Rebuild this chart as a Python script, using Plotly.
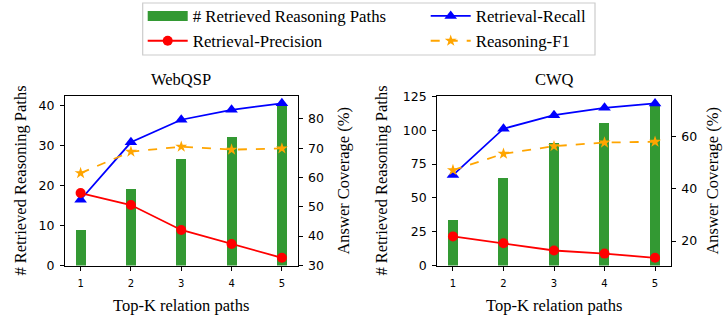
import plotly.graph_objects as go

# ---------------- data ----------------
top_k = [1, 2, 3, 4, 5]
x_tick_labels = ["1", "2", "3", "4", "5"]

web_paths = [9.0, 19.2, 26.7, 32.2, 40.4]
web_recall = [52.4, 72.0, 79.7, 83.1, 85.3]
web_precision = [54.7, 50.6, 42.1, 37.3, 32.6]
web_f1 = [61.5, 68.8, 70.5, 69.5, 69.9]

cwq_paths = [33.8, 65.1, 90.8, 105.8, 119.5]
cwq_recall = [45.3, 63.1, 68.3, 71.1, 72.8]
cwq_precision = [21.8, 19.2, 16.4, 15.2, 13.6]
cwq_f1 = [47.2, 53.5, 56.4, 57.8, 58.1]

web_left_ticks = [0, 10, 20, 30, 40]
web_right_ticks = [30, 40, 50, 60, 70, 80]
cwq_left_ticks = [0, 25, 50, 75, 100, 125]
cwq_right_ticks = [20, 40, 60]

# ---------------- style ----------------
W, H = 724, 318
GREEN = "#339933"
BLUE = "#0000ff"
RED = "#ff0000"
ORANGE = "#ffa500"
SERIF = "Liberation Serif, Times New Roman, serif"
SANS = "DejaVu Sans, sans-serif"


def px(x):
    return x / W


def py(y):
    return 1 - y / H


fig = go.Figure()

panels = [
    dict(xa="x", ya="y", ya2="y2", paths=web_paths, recall=web_recall,
         precision=web_precision, f1=web_f1, legend=True),
    dict(xa="x2", ya="y3", ya2="y4", paths=cwq_paths, recall=cwq_recall,
         precision=cwq_precision, f1=cwq_f1, legend=False),
]

for p in panels:
    fig.add_trace(go.Bar(x=top_k, y=p["paths"], width=0.2, marker=dict(color=GREEN, line=dict(width=0)),
                         name="# Retrieved Reasoning Paths", showlegend=False,
                         xaxis=p["xa"], yaxis=p["ya"]))
    fig.add_trace(go.Scatter(x=top_k, y=p["recall"], mode="lines+markers", name="Retrieval-Recall",
                             line=dict(color=BLUE, width=1.8),
                             marker=dict(symbol="triangle-up", size=11, color=BLUE),
                             showlegend=p["legend"], legendrank=2,
                             xaxis=p["xa"], yaxis=p["ya2"]))
    fig.add_trace(go.Scatter(x=top_k, y=p["precision"], mode="lines+markers", name="Retrieval-Precision",
                             line=dict(color=RED, width=1.8),
                             marker=dict(symbol="circle", size=10, color=RED),
                             showlegend=p["legend"], legendrank=3,
                             xaxis=p["xa"], yaxis=p["ya2"]))
    fig.add_trace(go.Scatter(x=top_k, y=p["f1"], mode="lines+markers", name="Reasoning-F1",
                             line=dict(color=ORANGE, width=1.8, dash="dash"),
                             marker=dict(symbol="star", size=9, color=ORANGE),
                             showlegend=p["legend"], legendrank=4,
                             xaxis=p["xa"], yaxis=p["ya2"]))

# legend helper for the bar series (wide rectangle patch)
fig.add_trace(go.Scatter(x=[None], y=[None], mode="lines", name="# Retrieved Reasoning Paths",
                         line=dict(color=GREEN, width=12), legendrank=1,
                         xaxis="x", yaxis="y"))

ydom = [py(265.5), py(95.7)]
xdom_l = [px(65), px(297.5)]
xdom_r = [px(437.3), px(670.7)]

common_x = dict(showline=True, linecolor="black", linewidth=1.2, mirror=True,
                ticks="outside", ticklen=4, tickwidth=1, tickcolor="black",
                showgrid=False, zeroline=False, range=[0.69, 5.31],
                tickvals=top_k, ticktext=x_tick_labels, ticklabelstandoff=4,
                tickfont=dict(family=SANS, size=10, color="black"))
common_y = dict(showline=True, linecolor="black", linewidth=1.2,
                ticks="outside", ticklen=4, tickwidth=1, tickcolor="black",
                showgrid=False, zeroline=False, ticklabelstandoff=3,
                tickfont=dict(family=SANS, size=12.5, color="black"))

fig.update_layout(
    width=W, height=H,
    margin=dict(l=0, r=0, t=0, b=0, autoexpand=False),
    paper_bgcolor="white", plot_bgcolor="white",
    bargap=0,
    xaxis=dict(domain=xdom_l, anchor="y", **common_x),
    yaxis=dict(domain=ydom, anchor="x", range=[0, 42.4], tickvals=web_left_ticks, **common_y),
    yaxis2=dict(overlaying="y", side="right", anchor="x", range=[29.97, 87.9],
                tickvals=web_right_ticks, **common_y),
    xaxis2=dict(domain=xdom_r, anchor="y3", **common_x),
    yaxis3=dict(domain=ydom, anchor="x2", range=[0, 125.5], tickvals=cwq_left_ticks, **common_y),
    yaxis4=dict(overlaying="y3", side="right", anchor="x2", range=[10.64, 75.76],
                tickvals=cwq_right_ticks, **common_y),
    legend=dict(orientation="h", x=px(142.7), y=py(-1.5), xanchor="left", yanchor="top",
                bgcolor="rgba(0,0,0,0)", borderwidth=0, itemwidth=40,
                font=dict(family=SERIF, size=16.8, color="black"),
                entrywidth=228, entrywidthmode="pixels", traceorder="normal"),
    showlegend=True,
)

# legend frame
fig.add_shape(type="rect", xref="paper", yref="paper",
              x0=px(142.7), x1=px(595), y0=py(55), y1=py(3),
              line=dict(color="#cccccc", width=1.2), fillcolor="white", layer="below")

ann_font = dict(family=SERIF, size=16.5, color="black")
annotations = [
    dict(text="WebQSP", x=px(181), y=py(79)),
    dict(text="CWQ", x=px(554), y=py(79)),
    dict(text="Top-K relation paths", x=px(181), y=py(305)),
    dict(text="Top-K relation paths", x=px(554), y=py(305)),
    dict(text="# Retrieved Reasoning Paths", x=px(21), y=py(180.6), textangle=-90),
    dict(text="Answer Coverage (%)", x=px(344), y=py(180.6), textangle=-90),
    dict(text="# Retrieved Reasoning Paths", x=px(382), y=py(180.6), textangle=-90),
    dict(text="Answer Coverage (%)", x=px(713), y=py(180.6), textangle=-90),
]
for a in annotations:
    fig.add_annotation(xref="paper", yref="paper", showarrow=False, xanchor="center",
                       yanchor="middle", font=ann_font, **a)

fig.write_html("out.html", config={"displayModeBar": False},
               post_script="document.body.style.margin='0px';document.body.style.overflow='hidden';")
